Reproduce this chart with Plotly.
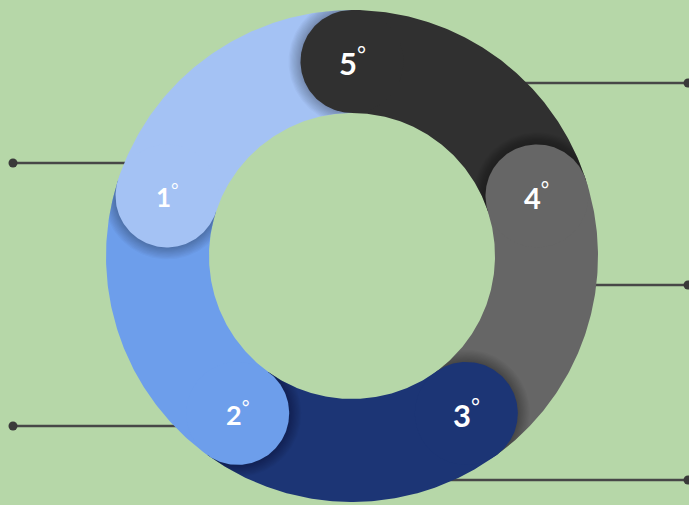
import numpy as np
import plotly.graph_objects as go

# ---- data ----
steps = ["1", "2", "3", "4", "5"]
values = [20, 20, 20, 20, 20]

# ---- style ----
colors = ["#A4C2F4", "#6D9EEB", "#1C3575", "#666666", "#303030"]
label_sizes = [26, 27, 31, 29, 31]
leader_side = ["left", "left", "right", "right", "right"]
leader_y = [163, 426, 480, 285, 83]
BG = "#B6D7A8"
LINE_COLOR = "#474747"

W, H = 689, 505
CX, CY = 352, 256
R_OUT, R_IN = 246, 143
RM = (R_OUT + R_IN) / 2
RC = (R_OUT - R_IN) / 2
START_ANGLE = 90.0


def to_xy(rho, phi_deg):
    p = np.radians(phi_deg)
    return CX + rho * np.cos(p), CY - rho * np.sin(p)


total = float(sum(values))
spans = [360.0 * v / total for v in values]
theta = [0.0] * len(values)
a = START_ANGLE
for k in reversed(range(len(values))):
    theta[k] = a
    a -= spans[k]

fig = go.Figure()

# leader lines (ending just behind the ring's outer edge)
for k in range(len(values)):
    dy = leader_y[k] - CY
    half = np.sqrt(max(R_OUT ** 2 - dy ** 2, 0)) - 6
    if leader_side[k] == "left":
        xs, dot_x = [13, CX - half], 13
    else:
        xs, dot_x = [CX + half, 688], 688
    fig.add_trace(go.Scatter(x=xs, y=[leader_y[k]] * 2, mode="lines",
                             line=dict(color=LINE_COLOR, width=2.5),
                             hoverinfo="skip", showlegend=False))
    fig.add_trace(go.Scatter(x=[dot_x], y=[leader_y[k]], mode="markers",
                             marker=dict(color="#3a3a3a", size=9),
                             hoverinfo="skip", showlegend=False))

# ring sectors
for k in range(len(values)):
    phi = np.linspace(theta[k] - spans[k], theta[k], 120)
    ox, oy = to_xy(R_OUT, phi)
    ix, iy = to_xy(R_IN, phi[::-1])
    fig.add_trace(go.Scatter(x=np.r_[ox, ix, ox[0]], y=np.r_[oy, iy, oy[0]],
                             fill="toself", fillcolor=colors[k], mode="lines",
                             line=dict(width=0, color=colors[k]),
                             hoverinfo="skip", showlegend=False))

# soft shadows of the rounded caps on the next segment
t = np.linspace(0, 2 * np.pi, 200)
for k in range(len(values)):
    ccx, ccy = to_xy(RM, theta[k])
    for j in range(1, 11):
        rr = RC + j * 1.2
        px = ccx + rr * np.cos(t)
        py = ccy + rr * np.sin(t)
        dx, dy = px - CX, -(py - CY)
        rho = np.clip(np.hypot(dx, dy), R_IN, R_OUT)
        ph = np.degrees(np.arctan2(dy, dx))
        d = ((ph - theta[k] + 180) % 360) - 180
        d = np.maximum(d, 0)
        sx, sy = to_xy(rho, theta[k] + d)
        fig.add_trace(go.Scatter(x=sx, y=sy, fill="toself",
                                 fillcolor="rgba(0,0,0,0.028)", mode="lines",
                                 line=dict(width=0), hoverinfo="skip",
                                 showlegend=False))

# rounded caps
for k in range(len(values)):
    ccx, ccy = to_xy(RM, theta[k])
    fig.add_trace(go.Scatter(x=ccx + RC * np.cos(t), y=ccy + RC * np.sin(t),
                             fill="toself", fillcolor=colors[k], mode="lines",
                             line=dict(width=0, color=colors[k]),
                             hoverinfo="skip", showlegend=False))
    fig.add_annotation(x=ccx, y=ccy, xref="x", yref="y", showarrow=False,
                       text=f"<b>{steps[k]}</b><sup>°</sup>",
                       font=dict(family="Lato", size=label_sizes[k], color="white"))

fig.update_layout(
    width=W, height=H,
    margin=dict(l=0, r=0, t=0, b=0),
    paper_bgcolor=BG, plot_bgcolor=BG,
    xaxis=dict(range=[0, W], visible=False, fixedrange=True),
    yaxis=dict(range=[H, 0], visible=False, fixedrange=True),
    showlegend=False,
)

fig.write_html("out.html", config={"displayModeBar": False},
               post_script="document.body.style.margin='0';document.body.style.background='" + BG + "';")
